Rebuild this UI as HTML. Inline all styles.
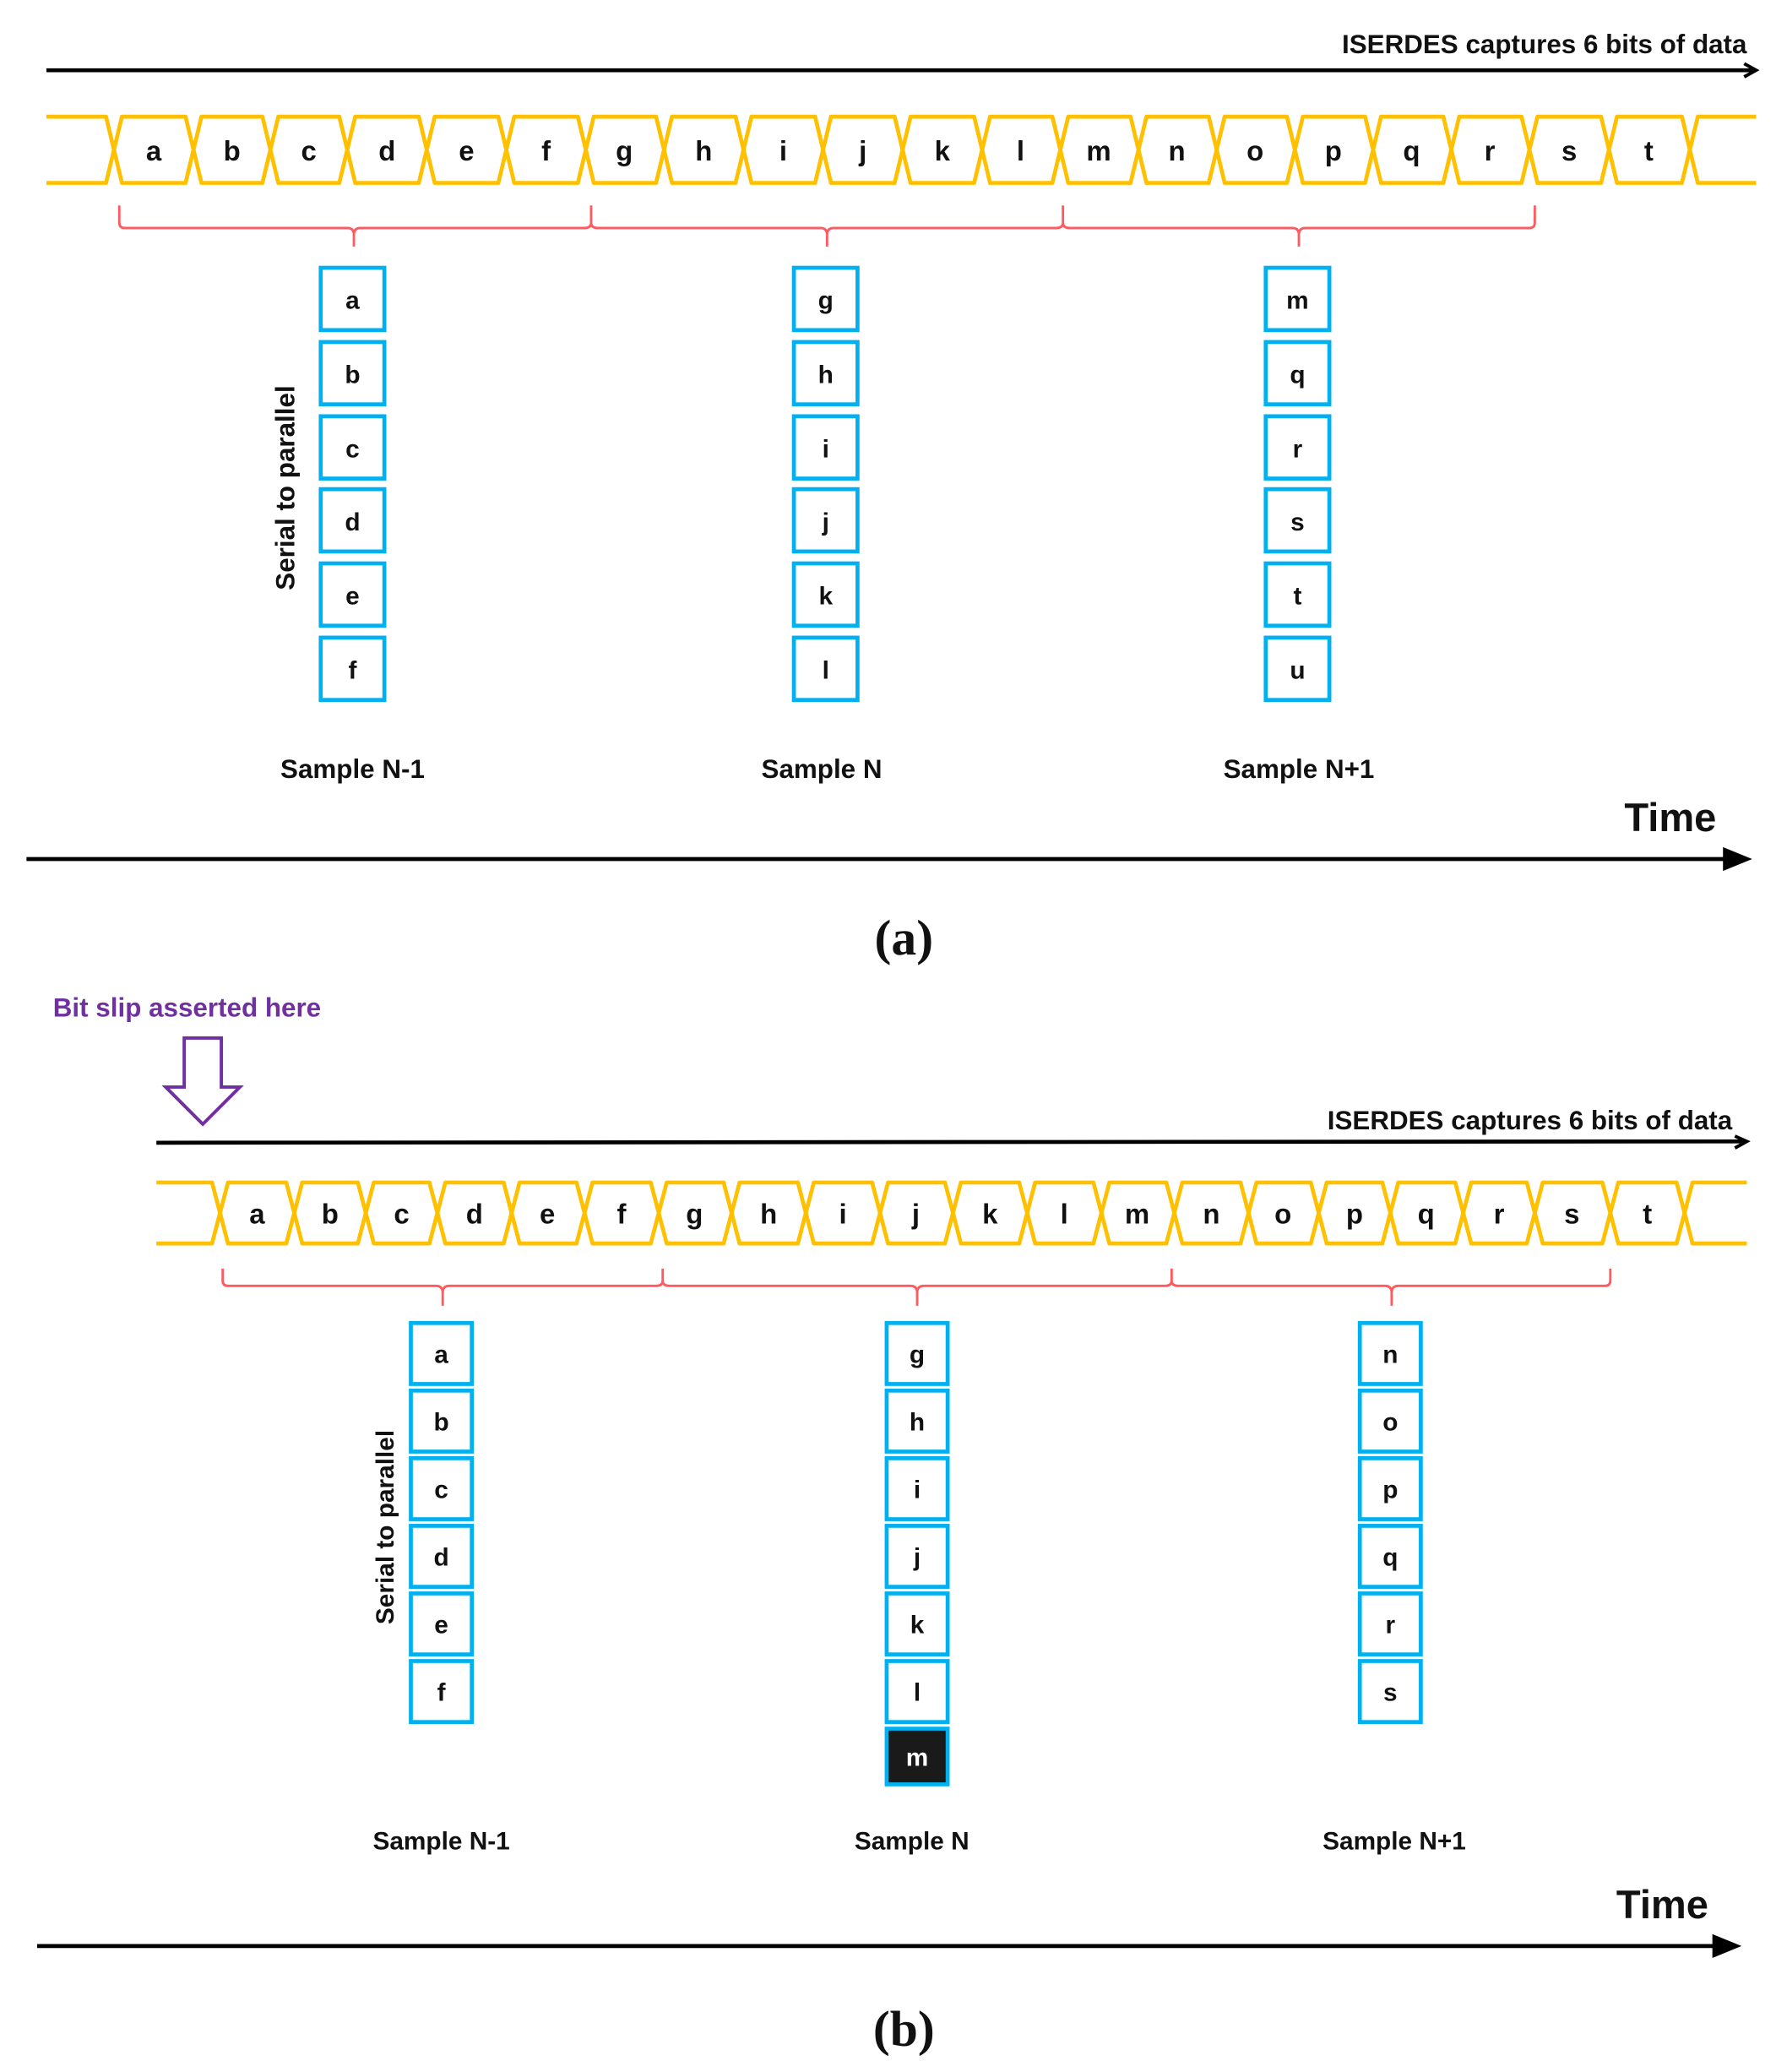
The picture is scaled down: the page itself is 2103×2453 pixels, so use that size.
<!DOCTYPE html>
<html><head><meta charset="utf-8"><style>
html,body{margin:0;padding:0;background:#fff;}
svg{display:block;}
text{font-family:"Liberation Sans",sans-serif;font-weight:bold;fill:#111;}
.sig{fill:none;stroke:#FFC000;stroke-width:3;stroke-linejoin:round;}
.br{fill:none;stroke:#FF5A5F;stroke-width:1.8;}
.bx{fill:#fff;stroke:#00B0F0;stroke-width:3;}
.cl{font-size:21px;text-anchor:middle;}
.bl{font-size:19px;text-anchor:middle;}
.sm{font-size:20px;text-anchor:middle;}
</style></head><body>
<svg width="2103" height="2453" viewBox="0 0 1340 1563" preserveAspectRatio="none" xmlns="http://www.w3.org/2000/svg">
<!-- PANEL A -->
<text x="1318" y="40" style="font-size:20px" text-anchor="end">ISERDES captures 6 bits of data</text>
<line x1="35" y1="53" x2="1324" y2="53" stroke="#000" stroke-width="3"/>
<path d="M1316 48 L1325 53 L1316 58" fill="none" stroke="#000" stroke-width="2.5"/>
<g class="sig">
<path d="M35 88 L80 88 L86 113 L80 138 L35 138"/>
<path d="M1325 88 L1281 88 L1275 113 L1281 138 L1325 138"/>
<path d="M86 113 L92 88 L140 88 L146 113 L140 138 L92 138 Z"/>
<path d="M146 113 L152 88 L198 88 L204 113 L198 138 L152 138 Z"/>
<path d="M204 113 L210 88 L256 88 L262 113 L256 138 L210 138 Z"/>
<path d="M262 113 L268 88 L316 88 L322 113 L316 138 L268 138 Z"/>
<path d="M322 113 L328 88 L376 88 L382 113 L376 138 L328 138 Z"/>
<path d="M382 113 L388 88 L436 88 L442 113 L436 138 L388 138 Z"/>
<path d="M442 113 L448 88 L495 88 L501 113 L495 138 L448 138 Z"/>
<path d="M501 113 L507 88 L555 88 L561 113 L555 138 L507 138 Z"/>
<path d="M561 113 L567 88 L615 88 L621 113 L615 138 L567 138 Z"/>
<path d="M621 113 L627 88 L675 88 L681 113 L675 138 L627 138 Z"/>
<path d="M681 113 L687 88 L735 88 L741 113 L735 138 L687 138 Z"/>
<path d="M741 113 L747 88 L794 88 L800 113 L794 138 L747 138 Z"/>
<path d="M800 113 L806 88 L853 88 L859 113 L853 138 L806 138 Z"/>
<path d="M859 113 L865 88 L912 88 L918 113 L912 138 L865 138 Z"/>
<path d="M918 113 L924 88 L971 88 L977 113 L971 138 L924 138 Z"/>
<path d="M977 113 L983 88 L1030 88 L1036 113 L1030 138 L983 138 Z"/>
<path d="M1036 113 L1042 88 L1089 88 L1095 113 L1089 138 L1042 138 Z"/>
<path d="M1095 113 L1101 88 L1148 88 L1154 113 L1148 138 L1101 138 Z"/>
<path d="M1154 113 L1160 88 L1208 88 L1214 113 L1208 138 L1160 138 Z"/>
<path d="M1214 113 L1220 88 L1269 88 L1275 113 L1269 138 L1220 138 Z"/>
</g>
<g class="cl">
<text x="116" y="121">a</text><text x="175" y="121">b</text><text x="233" y="121">c</text><text x="292" y="121">d</text><text x="352" y="121">e</text><text x="412" y="121">f</text><text x="471" y="121">g</text><text x="531" y="121">h</text><text x="591" y="121">i</text><text x="651" y="121">j</text><text x="711" y="121">k</text><text x="770" y="121">l</text><text x="829" y="121">m</text><text x="888" y="121">n</text><text x="947" y="121">o</text><text x="1006" y="121">p</text><text x="1065" y="121">q</text><text x="1124" y="121">r</text><text x="1184" y="121">s</text><text x="1244" y="121">t</text>
</g>
<g class="br">
<path d="M90 155 L90 168 Q90 172 94 172 L262 172 Q267 172 267 177 L267 186 M267 177 Q267 172 272 172 L441 172 Q446 172 446 168 L446 155"/>
<path d="M446 168 Q446 172 451 172 L619 172 Q624 172 624 177 L624 186 M624 177 Q624 172 629 172 L797 172 Q802 172 802 168 L802 155"/>
<path d="M802 168 Q802 172 807 172 L975 172 Q980 172 980 177 L980 186 M980 177 Q980 172 985 172 L1154 172 Q1158 172 1158 168 L1158 155"/>
</g>
<g>
<rect class="bx" x="242" y="202" width="48" height="47"/><rect class="bx" x="242" y="258" width="48" height="47"/><rect class="bx" x="242" y="314" width="48" height="47"/><rect class="bx" x="242" y="369" width="48" height="47"/><rect class="bx" x="242" y="425" width="48" height="47"/><rect class="bx" x="242" y="481" width="48" height="47"/>
<rect class="bx" x="599" y="202" width="48" height="47"/><rect class="bx" x="599" y="258" width="48" height="47"/><rect class="bx" x="599" y="314" width="48" height="47"/><rect class="bx" x="599" y="369" width="48" height="47"/><rect class="bx" x="599" y="425" width="48" height="47"/><rect class="bx" x="599" y="481" width="48" height="47"/>
<rect class="bx" x="955" y="202" width="48" height="47"/><rect class="bx" x="955" y="258" width="48" height="47"/><rect class="bx" x="955" y="314" width="48" height="47"/><rect class="bx" x="955" y="369" width="48" height="47"/><rect class="bx" x="955" y="425" width="48" height="47"/><rect class="bx" x="955" y="481" width="48" height="47"/>
</g>
<g class="bl">
<text x="266" y="233">a</text><text x="266" y="289">b</text><text x="266" y="345">c</text><text x="266" y="400">d</text><text x="266" y="456">e</text><text x="266" y="512">f</text>
<text x="623" y="233">g</text><text x="623" y="289">h</text><text x="623" y="345">i</text><text x="623" y="400">j</text><text x="623" y="456">k</text><text x="623" y="512">l</text>
<text x="979" y="233">m</text><text x="979" y="289">q</text><text x="979" y="345">r</text><text x="979" y="400">s</text><text x="979" y="456">t</text><text x="979" y="512">u</text>
</g>
<text transform="translate(222,368) rotate(-90)" style="font-size:20px" text-anchor="middle">Serial to parallel</text>
<g class="sm"><text x="266" y="587">Sample N-1</text><text x="620" y="587">Sample N</text><text x="980" y="587">Sample N+1</text></g>
<text x="1295" y="627" style="font-size:30px" text-anchor="end">Time</text>
<line x1="20" y1="648" x2="1305" y2="648" stroke="#000" stroke-width="3"/>
<path d="M1300 639 L1322 648 L1300 657 Z" fill="#000"/>
<text x="682" y="720" style="font-family:'Liberation Serif',serif;font-size:38px" text-anchor="middle">(a)</text>

<!-- PANEL B -->
<text x="40" y="767" style="font-size:20px;fill:#7030A0">Bit slip asserted here</text>
<path d="M139 783 L167 783 L167 820 L181 820 L153 848 L125 820 L139 820 Z" fill="none" stroke="#7030A0" stroke-width="2.5"/>
<text x="1307" y="852" style="font-size:20px" text-anchor="end">ISERDES captures 6 bits of data</text>
<line x1="118" y1="862" x2="1317" y2="861" stroke="#000" stroke-width="3"/>
<path d="M1309 857 L1318 861 L1309 866" fill="none" stroke="#000" stroke-width="2.5"/>
<g class="sig">
<path d="M118 892 L160 892 L166 915 L160 938 L118 938"/>
<path d="M1318 892 L1277 892 L1271 915 L1277 938 L1318 938"/>
<path d="M166 915 L172 892 L216 892 L222 915 L216 938 L172 938 Z"/>
<path d="M222 915 L228 892 L270 892 L276 915 L270 938 L228 938 Z"/>
<path d="M276 915 L282 892 L324 892 L330 915 L324 938 L282 938 Z"/>
<path d="M330 915 L336 892 L380 892 L386 915 L380 938 L336 938 Z"/>
<path d="M386 915 L392 892 L435 892 L441 915 L435 938 L392 938 Z"/>
<path d="M441 915 L447 892 L491 892 L497 915 L491 938 L447 938 Z"/>
<path d="M497 915 L503 892 L546 892 L552 915 L546 938 L503 938 Z"/>
<path d="M552 915 L558 892 L602 892 L608 915 L602 938 L558 938 Z"/>
<path d="M608 915 L614 892 L658 892 L664 915 L658 938 L614 938 Z"/>
<path d="M664 915 L670 892 L713 892 L719 915 L713 938 L670 938 Z"/>
<path d="M719 915 L725 892 L769 892 L775 915 L769 938 L725 938 Z"/>
<path d="M775 915 L781 892 L825 892 L831 915 L825 938 L781 938 Z"/>
<path d="M831 915 L837 892 L880 892 L886 915 L880 938 L837 938 Z"/>
<path d="M886 915 L892 892 L936 892 L942 915 L936 938 L892 938 Z"/>
<path d="M942 915 L948 892 L989 892 L995 915 L989 938 L948 938 Z"/>
<path d="M995 915 L1001 892 L1043 892 L1049 915 L1043 938 L1001 938 Z"/>
<path d="M1049 915 L1055 892 L1098 892 L1104 915 L1098 938 L1055 938 Z"/>
<path d="M1104 915 L1110 892 L1152 892 L1158 915 L1152 938 L1110 938 Z"/>
<path d="M1158 915 L1164 892 L1209 892 L1215 915 L1209 938 L1164 938 Z"/>
<path d="M1215 915 L1221 892 L1265 892 L1271 915 L1265 938 L1221 938 Z"/>
</g>
<g class="cl">
<text x="194" y="923">a</text><text x="249" y="923">b</text><text x="303" y="923">c</text><text x="358" y="923">d</text><text x="413" y="923">e</text><text x="469" y="923">f</text><text x="524" y="923">g</text><text x="580" y="923">h</text><text x="636" y="923">i</text><text x="691" y="923">j</text><text x="747" y="923">k</text><text x="803" y="923">l</text><text x="858" y="923">m</text><text x="914" y="923">n</text><text x="968" y="923">o</text><text x="1022" y="923">p</text><text x="1076" y="923">q</text><text x="1131" y="923">r</text><text x="1186" y="923">s</text><text x="1243" y="923">t</text>
</g>
<g class="br">
<path d="M168 957 L168 966 Q168 970 172 970 L329 970 Q334 970 334 975 L334 985 M334 975 Q334 970 339 970 L495 970 Q500 970 500 966 L500 957"/>
<path d="M500 966 Q500 970 505 970 L687 970 Q692 970 692 975 L692 985 M692 975 Q692 970 697 970 L879 970 Q884 970 884 966 L884 957"/>
<path d="M884 966 Q884 970 889 970 L1045 970 Q1050 970 1050 975 L1050 985 M1050 975 Q1050 970 1055 970 L1211 970 Q1215 970 1215 966 L1215 957"/>
</g>
<g>
<rect class="bx" x="310" y="998" width="46" height="46"/><rect class="bx" x="310" y="1049" width="46" height="46"/><rect class="bx" x="310" y="1100" width="46" height="46"/><rect class="bx" x="310" y="1151" width="46" height="46"/><rect class="bx" x="310" y="1202" width="46" height="46"/><rect class="bx" x="310" y="1253" width="46" height="46"/>
<rect class="bx" x="669" y="998" width="46" height="46"/><rect class="bx" x="669" y="1049" width="46" height="46"/><rect class="bx" x="669" y="1100" width="46" height="46"/><rect class="bx" x="669" y="1151" width="46" height="46"/><rect class="bx" x="669" y="1202" width="46" height="46"/><rect class="bx" x="669" y="1253" width="46" height="46"/>
<rect x="669" y="1304" width="46" height="42" fill="#1a1a1a" stroke="#00B0F0" stroke-width="3"/>
<rect class="bx" x="1026" y="998" width="46" height="46"/><rect class="bx" x="1026" y="1049" width="46" height="46"/><rect class="bx" x="1026" y="1100" width="46" height="46"/><rect class="bx" x="1026" y="1151" width="46" height="46"/><rect class="bx" x="1026" y="1202" width="46" height="46"/><rect class="bx" x="1026" y="1253" width="46" height="46"/>
</g>
<g class="bl">
<text x="333" y="1028">a</text><text x="333" y="1079">b</text><text x="333" y="1130">c</text><text x="333" y="1181">d</text><text x="333" y="1232">e</text><text x="333" y="1283">f</text>
<text x="692" y="1028">g</text><text x="692" y="1079">h</text><text x="692" y="1130">i</text><text x="692" y="1181">j</text><text x="692" y="1232">k</text><text x="692" y="1283">l</text><text x="692" y="1332" style="fill:#fff">m</text>
<text x="1049" y="1028">n</text><text x="1049" y="1079">o</text><text x="1049" y="1130">p</text><text x="1049" y="1181">q</text><text x="1049" y="1232">r</text><text x="1049" y="1283">s</text>
</g>
<text transform="translate(297,1152) rotate(-90)" style="font-size:19px" text-anchor="middle">Serial to parallel</text>
<g class="sm" style="font-size:19px"><text x="333" y="1395">Sample N-1</text><text x="688" y="1395">Sample N</text><text x="1052" y="1395">Sample N+1</text></g>
<text x="1289" y="1447" style="font-size:30px" text-anchor="end">Time</text>
<line x1="28" y1="1468" x2="1298" y2="1468" stroke="#000" stroke-width="3"/>
<path d="M1292 1459 L1314 1468 L1292 1477 Z" fill="#000"/>
<text x="682" y="1543" style="font-family:'Liberation Serif',serif;font-size:38px" text-anchor="middle">(b)</text>
</svg>
</body></html>
